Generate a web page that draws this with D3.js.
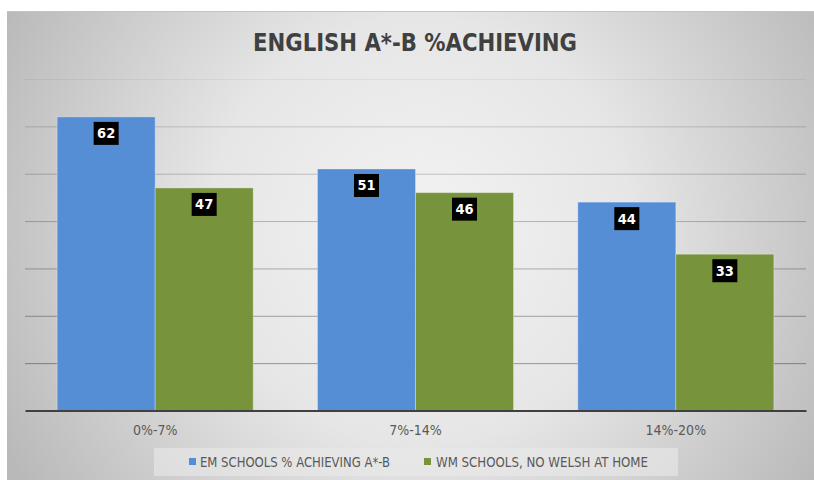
<!DOCTYPE html>
<html lang="en">
<head>
  <meta charset="UTF-8">
  <title>English A*-B</title>
  <script src="https://cdn.jsdelivr.net/npm/d3@7"></script>
  <style>
    body { margin: 0; background: #fff; }
    svg { display: block; }
  </style>
</head>
<body>
<svg></svg>
<script>
  const categories = ["0%-7%", "7%-14%", "14%-20%"]
  const seriesNames = ["EM SCHOOLS % ACHIEVING A*-B", "WM SCHOOLS, NO WELSH AT HOME"]
  const emValues = [62, 51, 44]
  const wmValues = [47, 46, 33]
  const gridTicks = [10, 20, 30, 40, 50, 60, 70]

  const colors = ["#558ed5", "#77933c"]
  const width = 814, height = 480
  const plot = {left: 25, right: 806, top: 79, bottom: 410.5}
  const narrow = "'Liberation Sans Narrow', 'DejaVu Sans Condensed', 'Liberation Sans', sans-serif"

  const data = categories.map((c, i) => ({cat: c, values: [emValues[i], wmValues[i]]}))

  const svg = d3.select('svg')
      .attr('width', width)
      .attr('height', height)

  // chart area background
  const defs = svg.append('defs')
  const grad = defs.append('radialGradient')
      .attr('id', 'bg')
      .attr('gradientUnits', 'userSpaceOnUse')
      .attr('cx', 420).attr('cy', 230).attr('r', 470)
  grad.append('stop').attr('offset', 0).attr('stop-color', '#f3f3f3')
  grad.append('stop').attr('offset', 0.45).attr('stop-color', '#e6e6e6')
  grad.append('stop').attr('offset', 1).attr('stop-color', '#b9b9b9')

  svg.append('rect')
      .attr('x', 7).attr('y', 11)
      .attr('width', width - 7).attr('height', height - 11)
      .attr('fill', 'url(#bg)')
  svg.append('line')
      .attr('x1', 7).attr('x2', width).attr('y1', 11.5).attr('y2', 11.5)
      .attr('stroke', '#c4c4c4')

  const x0 = d3.scaleBand()
      .domain(categories)
      .range([plot.left, plot.right])
      .paddingInner(0.247)
      .paddingOuter(0.1235)

  const x1 = d3.scaleBand()
      .domain([0, 1])
      .range([0, x0.bandwidth()])

  const y = d3.scaleLinear()
      .domain([0, 70])
      .range([plot.bottom, plot.top])

  // lines fade towards the top, the 70 line is barely visible
  const gridFade = d3.scaleLinear().domain([10, 60, 70]).range([0.36, 0.16, 0.05])

  // gridlines
  svg.append('g')
      .attr('transform', `translate(${plot.left},0)`)
      .call(d3.axisLeft(y).tickValues(gridTicks).tickSize(-(plot.right - plot.left)).tickFormat(''))
      .call(g => g.select('.domain').remove())
      .call(g => g.selectAll('.tick line')
          .attr('stroke', '#000')
          .attr('stroke-opacity', d => gridFade(d)))

  // bars
  const groups = svg.append('g')
      .selectAll('g')
      .data(data)
      .join('g')
      .attr('transform', d => `translate(${x0(d.cat)},0)`)

  groups.selectAll('rect')
      .data(d => d.values.map((v, i) => ({v, i})))
      .join('rect')
      .attr('x', d => x1(d.i))
      .attr('y', d => y(d.v))
      .attr('width', x1.bandwidth())
      .attr('height', d => y(0) - y(d.v))
      .attr('fill', d => colors[d.i])
      .attr('stroke', '#fff')
      .attr('stroke-opacity', 0.3)
      .attr('stroke-width', 1)

  // data labels
  const labels = groups.selectAll('g.lbl')
      .data(d => d.values.map((v, i) => ({v, i})))
      .join('g')
      .attr('class', 'lbl')
      .attr('transform', d => `translate(${x1(d.i) + x1.bandwidth() / 2},${y(d.v) + 5})`)

  labels.append('rect')
      .attr('x', -12.5).attr('y', 0)
      .attr('width', 25).attr('height', 23)
      .attr('fill', '#000')

  labels.append('text')
      .attr('y', 16.5)
      .attr('text-anchor', 'middle')
      .attr('fill', '#fff')
      .attr('font-family', narrow)
      .attr('font-weight', 'bold')
      .attr('font-size', 14.5)
      .text(d => d.v)

  // baseline + category axis
  svg.append('g')
      .attr('transform', `translate(0,${plot.bottom})`)
      .call(d3.axisBottom(x0).tickSize(0).tickPadding(15))
      .call(g => g.select('.domain')
          .attr('stroke', '#404040')
          .attr('stroke-width', 2.2))
      .call(g => g.selectAll('.tick text')
          .attr('fill', '#595959')
          .attr('font-family', narrow)
          .attr('font-size', 14)
          .attr('dy', '0.71em'))

  // title
  svg.append('text')
      .attr('x', 253)
      .attr('y', 51)
      .attr('fill', '#404040')
      .attr('font-family', narrow)
      .attr('font-weight', 'bold')
      .attr('font-size', 24)
      .attr('textLength', 324)
      .attr('lengthAdjust', 'spacingAndGlyphs')
      .text('ENGLISH A*-B %ACHIEVING')

  // legend
  const legend = svg.append('g')
  legend.append('rect')
      .attr('x', 154).attr('y', 448)
      .attr('width', 524).attr('height', 28)
      .attr('fill', '#e9e9e9')
      .attr('fill-opacity', 0.6)

  const legendItems = [
    {name: seriesNames[0], sx: 189, tx: 200, w: 190},
    {name: seriesNames[1], sx: 424, tx: 436, w: 212}
  ]
  const li = legend.selectAll('g.item')
      .data(legendItems)
      .join('g')
      .attr('class', 'item')
  li.append('rect')
      .attr('x', d => d.sx).attr('y', 458)
      .attr('width', 7).attr('height', 7)
      .attr('fill', (d, i) => colors[i])
  li.append('text')
      .attr('x', d => d.tx)
      .attr('y', 466.5)
      .attr('fill', '#595959')
      .attr('font-family', narrow)
      .attr('font-size', 14)
      .attr('textLength', d => d.w)
      .attr('lengthAdjust', 'spacingAndGlyphs')
      .text(d => d.name)
</script>
</body>
</html>
